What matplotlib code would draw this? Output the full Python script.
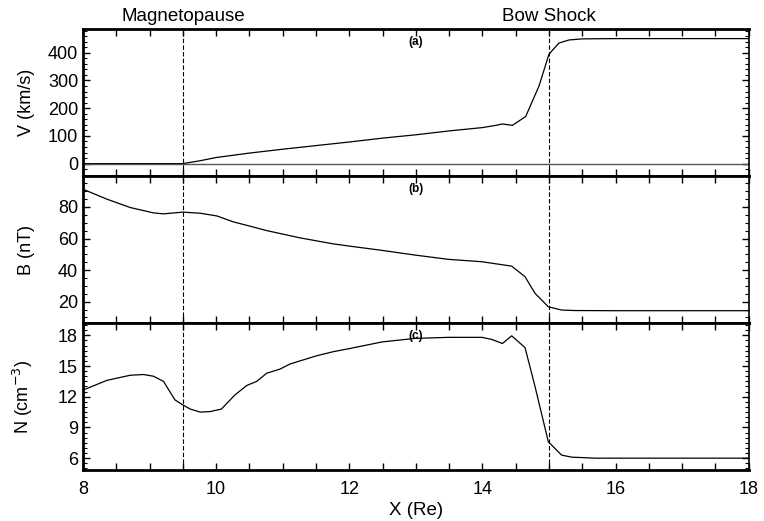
import numpy as np
import matplotlib
matplotlib.use('Agg')
import matplotlib.pyplot as plt
from matplotlib.ticker import MultipleLocator

plt.rcParams['font.family'] = ['Liberation Sans', 'DejaVu Sans']

# velocity (km/s)
xv = [8.0, 9.0, 9.5, 9.75, 10.0, 10.25, 10.5, 11.0, 11.5, 12.0, 12.5, 13.0, 13.5,
      14.0, 14.2, 14.3, 14.45, 14.65, 14.85, 15.0, 15.15, 15.3, 15.5, 16.0, 18.0]
vv = [0, 0, 0, 10, 22, 30, 38, 52, 65, 78, 92, 104, 118,
      130, 138, 143, 138, 170, 280, 395, 435, 446, 450, 451, 451]

# magnetic field (nT)
xb = [8.0, 8.36, 8.71, 9.06, 9.21, 9.5, 9.76, 10.01, 10.26, 10.51, 10.76, 11.26, 11.76,
      12.0, 12.49, 12.99, 13.49, 13.99, 14.44, 14.64, 14.79, 14.99, 15.19, 15.39, 16.0, 18.0]
bb = [91.2, 84.9, 79.6, 76.2, 75.6, 76.7, 76.0, 74.3, 70.5, 67.8, 65.0, 60.4, 56.6,
      55.2, 52.5, 49.5, 46.8, 45.3, 42.5, 35.8, 25.3, 16.8, 14.7, 14.4, 14.3, 14.3]

# density (cm^-3)
xn = [8.0, 8.36, 8.71, 8.91, 9.06, 9.21, 9.38, 9.5, 9.61, 9.76, 9.91, 10.08, 10.28, 10.46,
      10.61, 10.76, 10.96, 11.11, 11.51, 11.76, 12.0, 12.49, 12.99, 13.49, 13.99, 14.14,
      14.3, 14.44, 14.64, 14.79, 14.99, 15.19, 15.34, 15.7, 18.0]
nn = [12.65, 13.6, 14.1, 14.17, 14.0, 13.5, 11.7, 11.2, 10.8, 10.5, 10.55, 10.8, 12.16, 13.1,
      13.5, 14.3, 14.7, 15.2, 16.0, 16.4, 16.7, 17.35, 17.7, 17.8, 17.8, 17.6,
      17.2, 17.95, 16.8, 13.0, 7.6, 6.3, 6.1, 6.0, 6.0]

boundaries = [9.5, 15.0]
boundary_names = ['Magnetopause', 'Bow Shock']

fig = plt.figure(figsize=(7.64, 5.21), dpi=100)
axs = fig.subplots(3, 1, sharex=True)
fig.subplots_adjust(left=0.1086, right=0.980, top=0.944, bottom=0.098, hspace=0)

axs[0].plot(xv, vv, color='k', lw=0.9)
axs[0].axhline(0, color='#555555', lw=1.0)
axs[0].set_ylim(-45, 485)
axs[0].set_ylabel('V (km/s)', fontsize=13)
axs[0].yaxis.set_major_locator(MultipleLocator(100))
axs[0].yaxis.set_minor_locator(MultipleLocator(20))

axs[1].plot(xb, bb, color='k', lw=0.9)
axs[1].set_ylim(6.5, 99.5)
axs[1].set_ylabel('B (nT)', fontsize=13)
axs[1].yaxis.set_major_locator(MultipleLocator(20))
axs[1].yaxis.set_minor_locator(MultipleLocator(5))

axs[2].plot(xn, nn, color='k', lw=0.9)
axs[2].set_ylim(4.85, 19.2)
axs[2].set_ylabel('N (cm$^{-3}$)', fontsize=13)
axs[2].yaxis.set_major_locator(MultipleLocator(3))
axs[2].yaxis.set_minor_locator(MultipleLocator(0.5))
axs[2].set_xlabel('X (Re)', fontsize=13.5, labelpad=3)

for ax, lab in zip(axs, ['(a)', '(b)', '(c)']):
    ax.set_xlim(8, 18)
    ax.xaxis.set_major_locator(MultipleLocator(2))
    ax.xaxis.set_minor_locator(MultipleLocator(0.5))
    for b in boundaries:
        ax.axvline(b, color='k', ls=(0, (4, 2)), lw=0.8)
    ax.text(13.0, 0.955, lab, transform=ax.get_xaxis_transform(),
            ha='center', va='top', fontsize=8.5, fontweight='bold')
    ax.tick_params(which='both', direction='in', top=True, right=True, labelsize=13)
    ax.tick_params(which='major', length=5, width=1)
    ax.tick_params(which='minor', length=3, width=0.8)
    ax.tick_params(axis='x', which='minor', length=5, width=1)
    ax.tick_params(axis='x', pad=8)
    ax.yaxis.set_label_coords(-0.072, 0.5)
    for s in ['top', 'bottom', 'left']:
        ax.spines[s].set_linewidth(2)
    ax.spines['right'].set_linewidth(1.2)

for b, name in zip(boundaries, boundary_names):
    axs[0].text(b, 1.03, name, transform=axs[0].get_xaxis_transform(),
                ha='center', va='bottom', fontsize=13.5)

fig.savefig('out.png', dpi=100)
